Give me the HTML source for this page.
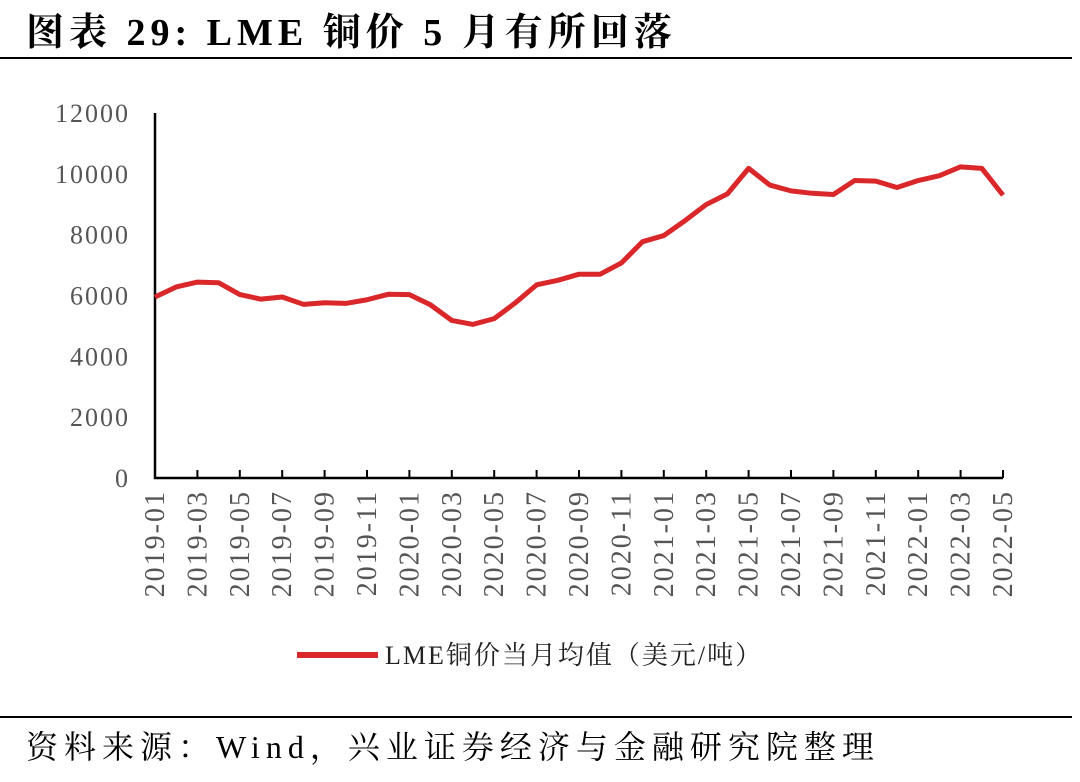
<!DOCTYPE html>
<html><head><meta charset="utf-8"><style>
body{margin:0;background:#fff;width:1080px;height:777px;overflow:hidden;font-family:"Liberation Serif","Noto Serif CJK SC",serif}
</style></head><body>
<svg width="1080" height="777">
<text x="26" y="45" font-size="38" letter-spacing="5" font-weight="bold" fill="#000" font-family="Liberation Serif,Noto Serif CJK SC,serif">图表 29:  LME 铜价 5 月有所回落</text>
<line x1="0" y1="58" x2="1072" y2="58" stroke="#000" stroke-width="2"/>
<g id="axes"></g>
<g id="plot"></g>
<line x1="297" y1="655" x2="378" y2="655" stroke="#d9272a" stroke-width="6"/>
<text x="385" y="664" font-size="26" letter-spacing="2" fill="#222">LME铜价当月均值（美元/吨）</text>
<line x1="0" y1="717" x2="1072" y2="717" stroke="#000" stroke-width="2"/>
<text x="26" y="758" font-size="32" letter-spacing="6" fill="#000">资料来源：Wind，兴业证券经济与金融研究院整理</text>
</svg>
<script>
const categories=[];for(let y=2019;y<=2022;y++)for(let m=1;m<=12;m++){if(y===2022&&m>5)break;categories.push(y+'-'+String(m).padStart(2,'0'));}
const values=[5950,6280,6440,6420,6030,5880,5950,5710,5760,5740,5860,6040,6030,5690,5180,5050,5240,5760,6350,6500,6700,6700,7070,7770,7970,8460,8990,9340,10180,9630,9440,9360,9320,9780,9760,9550,9780,9940,10230,10180,9300];
const yTicks=[0,2000,4000,6000,8000,10000,12000];
const NS='http://www.w3.org/2000/svg';
const x0=155,x1=1003,y0=478,yTop=113;
const xs=i=>x0+i*(x1-x0)/(categories.length-1);
const ys=v=>y0-(v/12000)*(y0-yTop);
const axes=document.getElementById('axes'),plot=document.getElementById('plot');
function mk(t,a,p){const e=document.createElementNS(NS,t);for(const k in a)e.setAttribute(k,a[k]);p.appendChild(e);return e;}
let e=mk('path',{d:`M${x0},${yTop}V${y0}H${x1}`,fill:'none',stroke:'#000','stroke-width':2.5},axes);


yTicks.forEach(v=>{const t=mk('text',{x:130,y:ys(v)+9,'text-anchor':'end','font-size':26,'letter-spacing':2,fill:'#555'},axes);t.textContent=v;

});
categories.forEach((c,i)=>{if(i%2)return;const x=xs(i);
if(i>0){const l=mk('line',{x1:x,y1:y0,x2:x,y2:y0-8,stroke:'#000','stroke-width':2},axes);

}
const t=mk('text',{x:0,y:0,transform:`translate(${x+9},${y0+12}) rotate(-90)`,'text-anchor':'end','font-size':28,'letter-spacing':2,fill:'#555'},axes);t.textContent=c;

});
const line=mk('polyline',{points:values.map((v,i)=>xs(i)+','+ys(v)).join(' '),fill:'none',stroke:'#d9272a','stroke-width':5,'stroke-linejoin':'round'},plot);


</script>
</body></html>
